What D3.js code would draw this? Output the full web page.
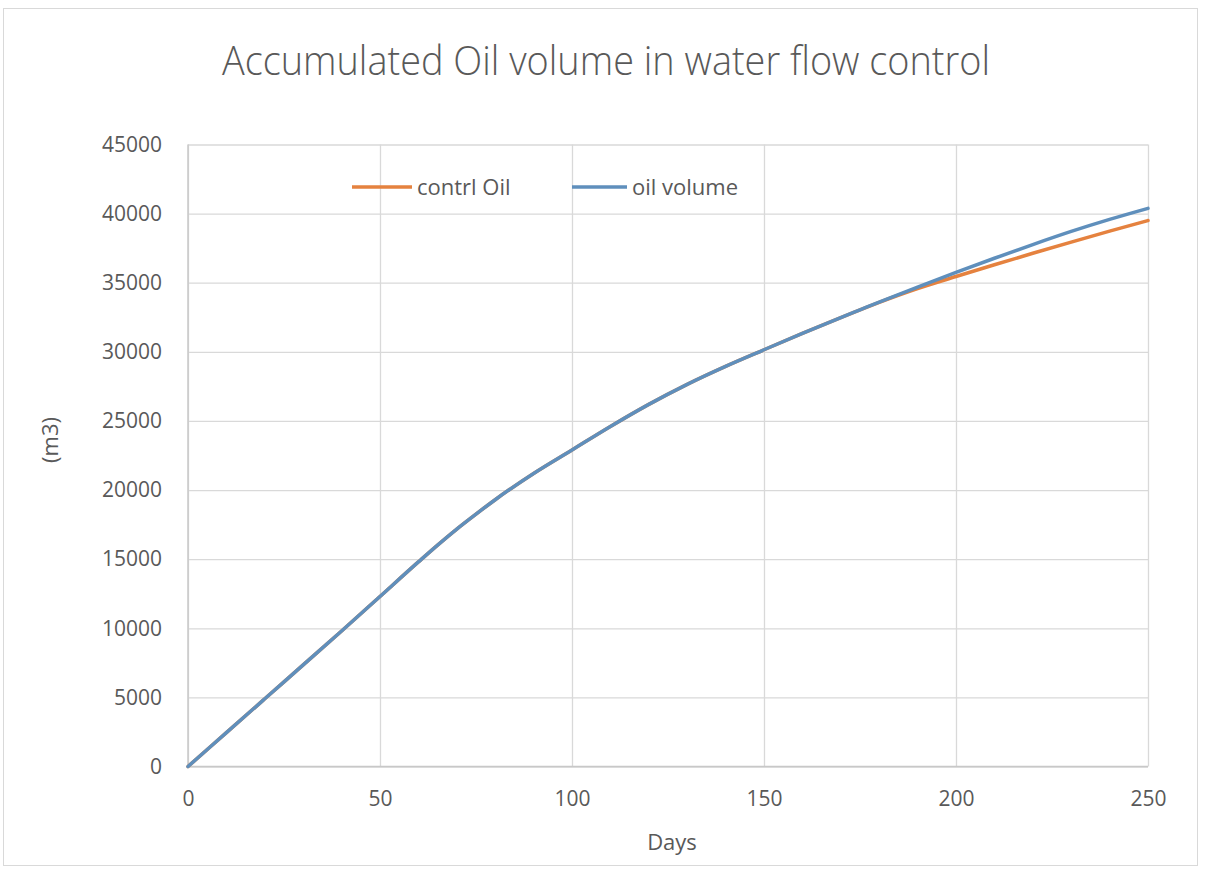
<!DOCTYPE html>
<html>
<head>
<meta charset="utf-8">
<script src="https://cdn.jsdelivr.net/npm/d3@7"></script>
<style>
  html, body { margin: 0; padding: 0; background: #ffffff; }
  svg { display: block; }
  text { font-family: "Open Sans", "Liberation Sans", sans-serif; fill: #595959; }
</style>
</head>
<body>
<svg id="chart" width="1206" height="870"></svg>
<script>
// Accumulated oil volume (m3) against production days
const days = [0, 10, 20, 30, 40, 50, 60, 65, 70, 75, 80, 90, 100, 110, 120, 130, 140, 150,
              160, 170, 175, 180, 190, 200, 210, 220, 230, 240, 250];

const oilVolume = [0, 2450, 4900, 7350, 9800, 12300, 14800, 16020, 17180, 18260, 19300, 21200, 22900,
                   24600, 26200, 27650, 28950, 30150, 31330, 32480, 33040, 33600, 34690, 35750,
                   36770, 37760, 38710, 39580, 40380];

const controlOil = [0, 2450, 4900, 7350, 9800, 12300, 14800, 16020, 17180, 18260, 19300, 21200, 22900,
                    24600, 26200, 27650, 28950, 30150, 31330, 32480, 33040, 33580, 34580, 35450,
                    36300, 37130, 37940, 38730, 39500];

const xTicks = [0, 50, 100, 150, 200, 250];
const yTicks = [0, 5000, 10000, 15000, 20000, 25000, 30000, 35000, 40000, 45000];

const series = [
  { name: "contrl Oil", values: controlOil, color: "#e5823f" },
  { name: "oil volume", values: oilVolume, color: "#5f8fbc" }
];

const svg = d3.select("#chart");
const W = 1206, H = 870;
const margin = { left: 188, right: W - 1148, top: 144.5, bottom: H - 766.5 };

// Chart frame
svg.append("rect")
  .attr("x", 3.5).attr("y", 8.5)
  .attr("width", 1194).attr("height", 857)
  .attr("fill", "#ffffff").attr("stroke", "#d9d9d9").attr("stroke-width", 1);

const x = d3.scaleLinear().domain([0, 250]).range([margin.left, W - margin.right]);
const y = d3.scaleLinear().domain([0, 45000]).range([H - margin.bottom, margin.top]);

// Horizontal gridlines
svg.append("g")
  .attr("transform", `translate(${margin.left},0)`)
  .call(d3.axisLeft(y).tickValues(yTicks).tickSize(-(x.range()[1] - x.range()[0])).tickFormat(""))
  .call(g => g.select(".domain").remove())
  .call(g => g.selectAll("line").attr("stroke", "#d9d9d9").attr("stroke-width", 1.3));

// Vertical gridlines
svg.append("g")
  .attr("transform", `translate(0,${y(0)})`)
  .call(d3.axisBottom(x).tickValues(xTicks).tickSize(-(y(0) - y(45000))).tickFormat(""))
  .call(g => g.select(".domain").remove())
  .call(g => g.selectAll("line").attr("stroke", "#d9d9d9").attr("stroke-width", 1.3));

// Axis lines
svg.append("line")
  .attr("x1", x(0)).attr("x2", x(250)).attr("y1", y(0)).attr("y2", y(0))
  .attr("stroke", "#c8c8c8").attr("stroke-width", 1.5);
svg.append("line")
  .attr("x1", x(0)).attr("x2", x(0)).attr("y1", y(0)).attr("y2", y(45000))
  .attr("stroke", "#c8c8c8").attr("stroke-width", 1.5);

// Y tick labels
svg.append("g")
  .attr("transform", `translate(${margin.left},0)`)
  .call(d3.axisLeft(y).tickValues(yTicks).tickSize(0).tickPadding(26).tickFormat(d3.format("d")))
  .call(g => g.select(".domain").remove())
  .call(g => g.selectAll("text")
    .style("font-size", "21px")
    .style("font-family", "'Open Sans', sans-serif")
    .attr("fill", "#595959"));

// X tick labels
svg.append("g")
  .attr("transform", `translate(0,${y(0)})`)
  .call(d3.axisBottom(x).tickValues(xTicks).tickSize(0).tickPadding(25).tickFormat(d3.format("d")))
  .call(g => g.select(".domain").remove())
  .call(g => g.selectAll("text")
    .style("font-size", "21px")
    .style("font-family", "'Open Sans', sans-serif")
    .attr("fill", "#595959"));

// Series lines
const line = d3.line()
  .x((d, i) => x(days[i]))
  .y(d => y(d))
  .curve(d3.curveMonotoneX);

svg.append("g").selectAll("path")
  .data(series)
  .join("path")
  .attr("d", s => line(s.values))
  .attr("fill", "none")
  .attr("stroke", s => s.color)
  .attr("stroke-width", 3.5)
  .attr("stroke-linejoin", "round")
  .attr("stroke-linecap", "round");

// Title
svg.append("text")
  .attr("x", 606).attr("y", 75)
  .attr("text-anchor", "middle")
  .attr("textLength", 768)
  .attr("lengthAdjust", "spacingAndGlyphs")
  .style("font-size", "40px")
  .style("font-family", "'Open Sans', sans-serif")
  .style("font-weight", "300")
  .text("Accumulated Oil volume in water flow control");

// Axis titles
svg.append("text")
  .attr("x", 672).attr("y", 850)
  .attr("text-anchor", "middle")
  .style("font-size", "22px")
  .text("Days");

svg.append("text")
  .attr("transform", "translate(58,440) rotate(-90)")
  .attr("text-anchor", "middle")
  .style("font-size", "22px")
  .text("(m3)");

// Legend
const legendItems = [
  { s: series[0], x0: 352, x1: 412, tx: 417 },
  { s: series[1], x0: 572, x1: 627, tx: 632 }
];
const lg = svg.append("g");
legendItems.forEach(it => {
  lg.append("line")
    .attr("x1", it.x0).attr("x2", it.x1).attr("y1", 187).attr("y2", 187)
    .attr("stroke", it.s.color).attr("stroke-width", 3.5);
  lg.append("text")
    .attr("x", it.tx).attr("y", 195)
    .style("font-size", "22px")
    .text(it.s.name);
});
</script>
</body>
</html>
